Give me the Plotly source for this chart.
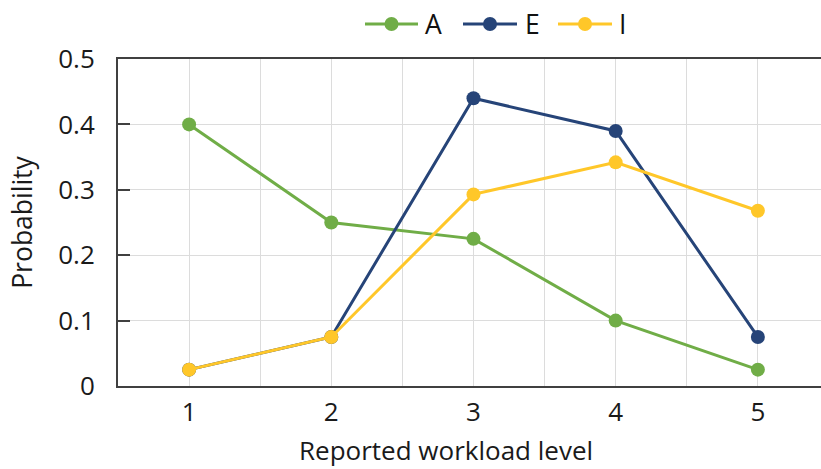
import plotly.graph_objects as go

# Reported workload level (x categories)
levels = [1, 2, 3, 4, 5]
level_labels = ["1", "2", "3", "4", "5"]

# Probability of each reported workload level per group
prob_a = [0.400, 0.250, 0.225, 0.100, 0.025]
prob_e = [0.025, 0.075, 0.440, 0.390, 0.075]
prob_i = [0.025, 0.075, 0.293, 0.342, 0.268]

y_ticks = [0, 0.1, 0.2, 0.3, 0.4, 0.5]
y_tick_labels = ["0", "0.1", "0.2", "0.3", "0.4", "0.5"]

series_names = ["A", "E", "I"]
series_values = [prob_a, prob_e, prob_i]
series_colors = ["#70AD47", "#264478", "#FFC729"]

FONT = "Open Sans, Noto Sans, sans-serif"
AXIS = "#404040"
GRID = "#DCDCDC"
TEXT = "#1a1a1a"

W, H = 821, 469
M_L, M_R, M_T, M_B = 118, 0, 59, 83
PLOT_W = W - M_L - M_R
PLOT_H = H - M_T - M_B


def px_to_paper(px, py):
    """Convert page pixel coordinates to paper coordinates."""
    return (px - M_L) / PLOT_W, (H - M_B - py) / PLOT_H


fig = go.Figure()
for name, vals, color in zip(series_names, series_values, series_colors):
    fig.add_trace(go.Scatter(
        x=levels, y=vals, name=name, mode="lines+markers",
        line=dict(color=color, width=3),
        marker=dict(color=color, size=14),
        showlegend=False,
    ))

# Legend row above the plot: line + dot key followed by the series name
legend_y = 24
legend_keys = [(365, 418, 423), (463, 517, 523), (558, 612, 617)]
shapes, annotations = [], []
for (x0, x1, tx), name, color in zip(legend_keys, series_names, series_colors):
    p0x, py = px_to_paper(x0, legend_y)
    p1x, _ = px_to_paper(x1, legend_y)
    shapes.append(dict(type="line", xref="paper", yref="paper",
                       x0=p0x, x1=p1x, y0=py, y1=py,
                       line=dict(color=color, width=3)))
    cx = (x0 + x1) / 2
    ax0, ay0 = px_to_paper(cx - 7, legend_y - 7)
    ax1, ay1 = px_to_paper(cx + 7, legend_y + 7)
    shapes.append(dict(type="circle", xref="paper", yref="paper",
                       x0=ax0, x1=ax1, y0=ay1, y1=ay0,
                       fillcolor=color, line=dict(color=color, width=0)))
    tpx, tpy = px_to_paper(tx, legend_y)
    annotations.append(dict(text=name, xref="paper", yref="paper",
                            x=tpx, y=tpy, xanchor="left", yanchor="middle",
                            showarrow=False, font=dict(size=26.5, color="#111111")))

# x-axis title, centred under the category labels
tx, ty = px_to_paper(446, 450)
annotations.append(dict(text="Reported workload level", xref="paper", yref="paper",
                        x=tx, y=ty, xanchor="center", yanchor="middle",
                        showarrow=False, font=dict(size=26, color=TEXT)))

fig.update_layout(
    width=W, height=H,
    margin=dict(l=M_L, r=M_R, t=M_T, b=M_B),
    plot_bgcolor="white", paper_bgcolor="white",
    font=dict(family=FONT, color=TEXT),
    shapes=shapes, annotations=annotations,
    xaxis=dict(
        range=[0.5, 5.444], tickvals=levels, ticktext=level_labels,
        showgrid=True, gridcolor=GRID, gridwidth=1,
        minor=dict(dtick=0.5, tick0=0.5, showgrid=True, gridcolor=GRID, gridwidth=1),
        showline=True, linecolor=AXIS, linewidth=2, mirror=True,
        ticks="", tickfont=dict(size=26), ticklabelstandoff=2,
        zeroline=False,
    ),
    yaxis=dict(
        range=[0, 0.5], tickvals=y_ticks, ticktext=y_tick_labels,
        showgrid=True, gridcolor=GRID, gridwidth=1,
        showline=True, linecolor=AXIS, linewidth=2,
        ticks="inside", ticklen=12, tickwidth=2, tickcolor=AXIS,
        tickfont=dict(size=26), ticklabelstandoff=16,
        zeroline=False,
        title=dict(text="Probability", font=dict(size=26.5), standoff=18),
    ),
)

fig.write_html("out.html")
